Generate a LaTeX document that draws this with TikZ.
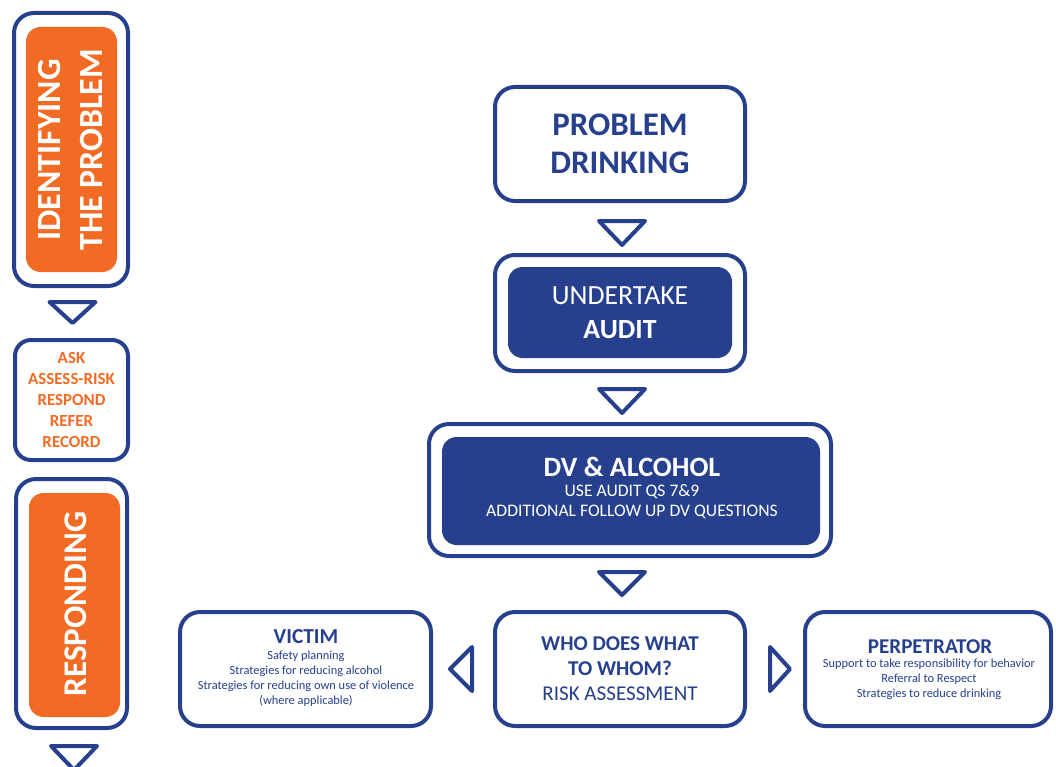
\documentclass[tikz,border=0pt]{standalone}
\usepackage{fontspec}
\setmainfont{Carlito}
\usetikzlibrary{calc}
\definecolor{navy}{RGB}{38,64,142}
\definecolor{orng}{RGB}{242,107,36}
\tikzset{
 frame/.style={draw=navy, line width=3pt, rounded corners=15pt, fill=white, inner sep=0pt},
 fillbox/.style={fill=navy, rounded corners=11pt, inner sep=0pt, text=white, align=center},
 orbox/.style={fill=orng, rounded corners=11pt, inner sep=0pt, text=white, align=center},
 tri/.style={draw=navy, line width=3pt, fill=white, line join=round},
 txt/.style={text=navy, inner sep=0pt, align=center},
}
\newcommand\downtri[4]{\draw[tri] ($(#1)+(#2-23,#3)$) -- ($(#1)+(#2+23,#3)$) -- ($(#1)+(#2,#4)$) -- cycle;}
\begin{document}
\begin{tikzpicture}[x=0.75pt,y=-0.75pt]
\useasboundingbox (0,0) rectangle (1056,767);
% left column
\node[frame, minimum width=85.5pt, minimum height=204.75pt] (id) at (71,149.5) {};
\node[orbox, minimum width=68.25pt, minimum height=183.75pt] (idin) at (71.5,149.5) {};
\node[text=white, inner sep=0pt, align=center, rotate=90, font=\fontsize{25.4}{31.5}\selectfont\bfseries] (idt) at (71,150) {IDENTIFYING\\THE PROBLEM};
\node[frame, rounded corners=12pt, minimum width=84.75pt, minimum height=90pt, text=orng, align=center, font=\fontsize{12.7}{15.75}\selectfont\bfseries] (ask) at (71.5,400) {ASK\\ASSESS-RISK\\RESPOND\\REFER\\RECORD};
\node[frame, minimum width=83.25pt, minimum height=186.75pt] (resp) at (71.5,603.5) {};
\node[orbox, minimum width=68.25pt, minimum height=168pt] (respin) at (74.5,605) {};
\node[text=white, inner sep=0pt, rotate=90, font=\fontsize{24.8}{28}\selectfont\bfseries] (respt) at (76,604) {RESPONDING};
\downtri{id.south}{1.5}{14}{35}
\downtri{resp.south}{2.5}{16}{40}
% main column
\node[frame, minimum width=187.5pt, minimum height=85.5pt, txt, font=\fontsize{24.7}{28.5}\selectfont\bfseries] (pd) at (620,144) {PROBLEM\\DRINKING};
\node[frame, minimum width=187.5pt, minimum height=87pt] (ua) at (620,313) {};
\node[fillbox, minimum width=168pt, minimum height=68.25pt, font=\fontsize{20.8}{25.5}\selectfont] (uain) at (620,312.5) {UNDERTAKE\\\textbf{AUDIT}};
\node[frame, minimum width=301.5pt, minimum height=99pt] (dv) at (630,490) {};
\node[fillbox, minimum width=283.5pt, minimum height=81pt] (dvin) at (631,491) {};
\node[text=white, inner sep=0pt, font=\fontsize{21}{24}\selectfont\bfseries] (dvt) at (632,467) {DV \& ALCOHOL};
\node[text=white, inner sep=0pt, align=center, font=\fontsize{13.2}{15}\selectfont] (dvs) at (632,502) {USE AUDIT QS 7\&9\\ADDITIONAL FOLLOW UP DV QUESTIONS};
\node[frame, minimum width=187.5pt, minimum height=85.5pt, txt, font=\fontsize{15.8}{18.75}\selectfont] (who) at (620,669) {\textbf{WHO DOES WHAT}\\\textbf{TO WHOM?}\\RISK ASSESSMENT};
\node[frame, minimum width=188.25pt, minimum height=85.5pt] (vic) at (305.5,669) {};
\node[txt, font=\fontsize{16}{18}\selectfont\bfseries] (vict) at (306,637) {VICTIM};
\node[txt, font=\fontsize{9.3}{11.25}\selectfont] (vics) at (306,678.5) {Safety planning\\Strategies for reducing alcohol\\Strategies for reducing own use of violence\\(where applicable)};
\node[frame, minimum width=184.5pt, minimum height=85.5pt] (per) at (928,669) {};
\node[txt, font=\fontsize{15.8}{18}\selectfont\bfseries] (pert) at (930,647) {PERPETRATOR};
\node[txt, font=\fontsize{9.3}{11.25}\selectfont] (pers) at (929,679) {Support to take responsibility for behavior\\Referral to Respect\\Strategies to reduce drinking};
\downtri{pd.south}{2}{18}{42}
\downtri{ua.south}{2}{16}{40}
\downtri{who.north}{2}{-38}{-15}
\draw[tri] ($(who.west)+(-21,-22)$) -- ($(who.west)+(-21,22)$) -- ($(who.west)+(-43,0)$) -- cycle;
\draw[tri] ($(who.east)+(23,-22)$) -- ($(who.east)+(23,22)$) -- ($(who.east)+(43,0)$) -- cycle;
\end{tikzpicture}
\end{document}
